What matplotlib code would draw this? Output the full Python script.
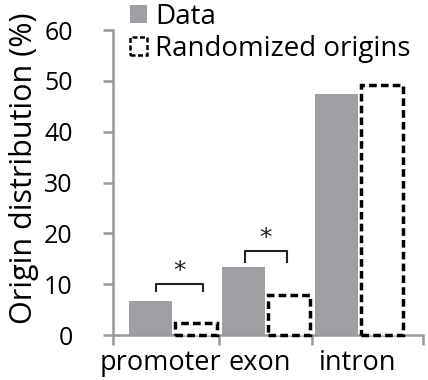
import matplotlib.pyplot as plt
from matplotlib.patches import Patch

plt.rcParams['font.family'] = ['Open Sans', 'DejaVu Sans']

categories = ['promoter', 'exon', 'intron']
data_vals = [6.7, 13.4, 47.4]
random_vals = [2.4, 7.9, 49.1]
# significance brackets: (category index, bracket top, leg bottom)
sig = [(0, 10.1, 8.7), (1, 16.5, 14.4)]

gray = '#9d9fa2'
axis_gray = '#999999'

fig = plt.figure(figsize=(4.28, 3.8), dpi=100)
ax = fig.add_axes([0.264, 0.118, 0.724, 0.803])

x = list(range(len(categories)))
w = 0.46
ax.bar([i - 0.245 for i in x], data_vals, width=w, color=gray, zorder=3,
       label='Data')
ax.bar([i + 0.245 for i in x], random_vals, width=w, color='white',
       edgecolor='black', linewidth=2.5, linestyle=(0, (2.2, 1.2)),
       zorder=3, clip_on=False, label='Randomized origins')

for i, top, leg in sig:
    x0, x1 = i - 0.19, i + 0.32
    if i == 1:
        x0, x1 = i - 0.23, i + 0.22
    ax.plot([x0, x0, x1, x1], [leg, top, top, leg], color='#222222', lw=1.5,
            zorder=4)
    ax.text((x0 + x1) / 2, top + 0.2, '*', ha='center', va='bottom',
            fontsize=18, color='#222222', family='DejaVu Sans')

ax.set_xlim(-0.648, 2.685)
ax.set_ylim(0, 60)
ax.set_yticks(range(0, 61, 10))
ax.set_xticks([-0.648, 0.49, 1.49, 2.685])
ax.set_xticklabels([])
for pos, lab in zip([-0.14, 0.93, 1.98], categories):
    ax.text(pos, -2.8, lab, ha='center', va='top', fontsize=19.5)

for s in ['top', 'right']:
    ax.spines[s].set_visible(False)
for s in ['left', 'bottom']:
    ax.spines[s].set_color(axis_gray)
    ax.spines[s].set_linewidth(1.8)
ax.tick_params(axis='both', colors=axis_gray, width=1.8, length=7,
               labelsize=18, labelcolor='black')
ax.tick_params(axis='y', pad=22)
ax.set_ylabel('Origin distribution (%)', fontsize=22, labelpad=2)
ax.yaxis.set_label_coords(-0.238, 0.548)

handles = [Patch(facecolor=gray, edgecolor='none', label='Data'),
           Patch(facecolor='white', edgecolor='black', linewidth=1.8,
                 linestyle=(0, (2, 1)), label='Randomized origins')]
fig.legend(handles=handles, loc='upper left', bbox_to_anchor=(0.297, 1.0),
           frameon=False, fontsize=20, handlelength=0.6, handleheight=0.6,
           handletextpad=0.3, labelspacing=0.15, borderaxespad=0,
           borderpad=0.1)

fig.savefig('out.png', dpi=100)
